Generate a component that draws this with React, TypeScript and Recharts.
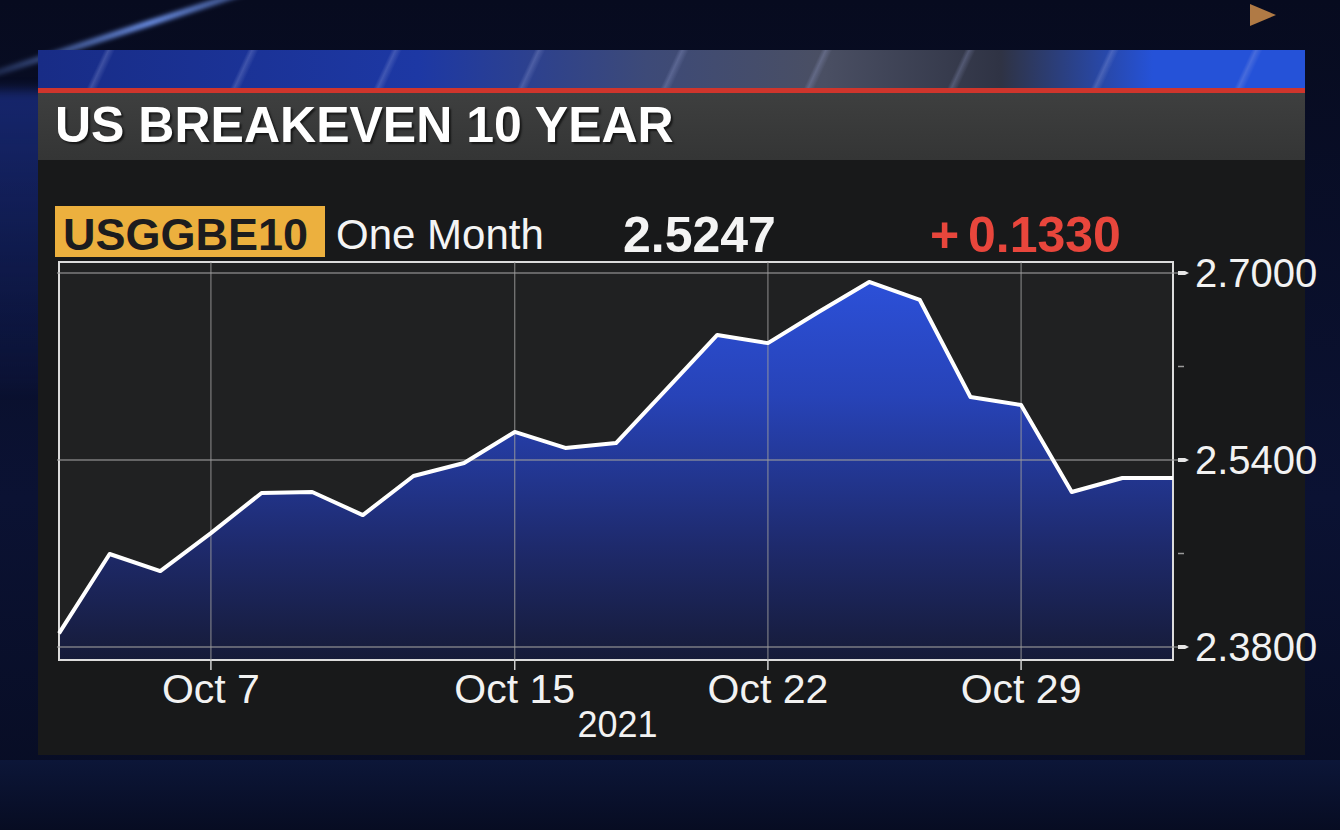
import React from 'react';
import { ComposedChart, Area, Line, XAxis, YAxis, ReferenceLine, ReferenceArea } from 'recharts';

const dates = ['Oct 4','Oct 5','Oct 6','Oct 7','Oct 8','Oct 11','Oct 12','Oct 13','Oct 14','Oct 15','Oct 18','Oct 19','Oct 20','Oct 21','Oct 22','Oct 25','Oct 26','Oct 27','Oct 28','Oct 29','Nov 1','Nov 2','Nov 3'];
const values = [2.3917, 2.4596, 2.445, 2.4775, 2.5118, 2.5126, 2.4929, 2.5263, 2.5374, 2.564, 2.5503, 2.5545, 2.6007, 2.647, 2.64, 2.6666, 2.6923, 2.6769, 2.5939, 2.5871, 2.5126, 2.5246, 2.5247];
const xTicks = ['Oct 7', 'Oct 15', 'Oct 22', 'Oct 29'];
const yTicks = [2.38, 2.46, 2.54, 2.62, 2.7];
const yMajor = [2.38, 2.54, 2.7];
const yDomain = [2.3689, 2.7094];
const ticker = 'USGGBE10';
const period = 'One Month';
const lastValue = '2.5247';
const change = '0.1330';
const title = 'US BREAKEVEN 10 YEAR';
const yearLabel = '2021';

const data = dates.map((d, i) => ({ date: d, value: values[i] }));

const FONT = '"Liberation Sans", Arial, Helvetica, sans-serif';

const YTick = (props: any) => {
  const { x, y, payload } = props;
  const major = yMajor.some((v) => Math.abs(v - payload.value) < 1e-6);
  return (
    <g>
      {major ? (
        <polygon points={`${x - 17},${y - 2} ${x - 10},${y - 2} ${x - 6},${y} ${x - 10},${y + 2} ${x - 17},${y + 2}`} fill="#e6e6e6" />
      ) : (
        <line x1={x - 17} x2={x - 11} y1={y} y2={y} stroke="#9a9a9a" strokeWidth={1.5} />
      )}
      {major && (
        <text x={x} y={y} dy="0.36em" fill="#f2f2f2" fontSize={40} fontFamily={FONT} textAnchor="start">
          {payload.value.toFixed(4)}
        </text>
      )}
    </g>
  );
};

const XTick = (props: any) => {
  const { x, y, payload } = props;
  return (
    <text x={x} y={y + 33} fill="#f2f2f2" fontSize={41} fontFamily={FONT} textAnchor="middle">
      {payload.value}
    </text>
  );
};

export default function App() {
  return (
    <div style={{ position: 'absolute', left: 0, top: 0, width: 1340, height: 830, overflow: 'hidden', background: 'linear-gradient(180deg, #070b1f 0%, #0b1233 60%, #070c22 100%)', fontFamily: FONT }}>
      {/* background streaks */}
      <div style={{ position: 'absolute', left: -60, top: 20, width: 420, height: 6, background: 'linear-gradient(90deg, rgba(60,100,255,0), rgba(120,160,255,0.9), rgba(60,100,255,0))', transform: 'rotate(-18deg)', filter: 'blur(2px)' }} />
      <div style={{ position: 'absolute', left: -40, top: 90, width: 140, height: 300, background: 'linear-gradient(180deg, rgba(40,70,200,0.45), rgba(20,40,140,0.05))', filter: 'blur(6px)' }} />
      <div style={{ position: 'absolute', left: 0, top: 760, width: 1340, height: 70, background: 'linear-gradient(180deg, #0c1638, #070c22)' }} />
      <div style={{ position: 'absolute', left: 1250, top: 4, width: 0, height: 0, borderTop: '11px solid transparent', borderBottom: '11px solid transparent', borderLeft: '26px solid #b07a45' }} />

      {/* panel */}
      <div style={{ position: 'absolute', left: 38, top: 50, width: 1267, height: 705, background: '#18191a' }} />
      <div style={{ position: 'absolute', left: 38, top: 50, width: 1267, height: 38, background: 'linear-gradient(90deg, #182c86 0%, #1d38a4 30%, #3d4a78 48%, #4a4f63 62%, #2f3344 76%, #2552d8 88%, #2552d8 100%)' }} />
      <div style={{ position: 'absolute', left: 38, top: 50, width: 1267, height: 38, background: 'repeating-linear-gradient(115deg, rgba(255,255,255,0) 0px, rgba(255,255,255,0) 60px, rgba(170,180,230,0.25) 64px, rgba(255,255,255,0) 70px, rgba(255,255,255,0) 130px)' }} />
      <div style={{ position: 'absolute', left: 38, top: 88, width: 1267, height: 5, background: '#cf352c' }} />
      <div style={{ position: 'absolute', left: 38, top: 93, width: 1267, height: 67, background: 'linear-gradient(180deg, #3e3f3f, #343535)' }} />
      <div style={{ position: 'absolute', left: 55, top: 100, fontSize: 50, lineHeight: 1, fontWeight: 700, color: '#ffffff', whiteSpace: 'nowrap', textShadow: '2px 2px 2px rgba(0,0,0,0.6)' }}>{title}</div>

      <div style={{ position: 'absolute', left: 55, top: 206, width: 270, height: 51, background: '#ecb03e' }} />
      <div style={{ position: 'absolute', left: 63, top: 212, fontSize: 45, lineHeight: 1, fontWeight: 700, color: '#1c1c1e', whiteSpace: 'nowrap' }}>{ticker}</div>
      <div style={{ position: 'absolute', left: 336, top: 214, fontSize: 42, lineHeight: 1, color: '#f4f4f4', whiteSpace: 'nowrap' }}>{period}</div>
      <div style={{ position: 'absolute', left: 623, top: 210, fontSize: 50, lineHeight: 1, fontWeight: 700, color: '#f4f4f4', whiteSpace: 'nowrap' }}>{lastValue}</div>
      <div style={{ position: 'absolute', left: 930, top: 210, fontSize: 50, lineHeight: 1, fontWeight: 700, color: '#e8463c', whiteSpace: 'nowrap' }}>+</div>
      <div style={{ position: 'absolute', left: 968, top: 210, fontSize: 50, lineHeight: 1, fontWeight: 700, color: '#e8463c', whiteSpace: 'nowrap' }}>{change}</div>

      <div style={{ position: 'absolute', left: 0, top: 0 }}>
        <ComposedChart width={1340} height={830} data={data} margin={{ top: 262, right: 12, bottom: 110, left: 57 }}>
          <defs>
            <linearGradient id="areaFill" x1="0" y1="0" x2="0" y2="1">
              <stop offset="0%" stopColor="#2c50d8" />
              <stop offset="30%" stopColor="#2743b8" />
              <stop offset="70%" stopColor="#1e2a6c" />
              <stop offset="100%" stopColor="#161b38" />
            </linearGradient>
          </defs>
          <XAxis
            dataKey="date"
            ticks={xTicks}
            interval={0}
            padding={{ left: 2, right: 5 }}
            axisLine={false}
            tickLine={{ stroke: '#d0d0d0', strokeWidth: 1.5 }}
            tickSize={10}
            tickMargin={0}
            tick={<XTick />}
            height={60}
            label={{ value: yearLabel, position: 'bottom', offset: -9, fill: '#f2f2f2', fontSize: 36, fontFamily: FONT }}
          />
          <YAxis
            orientation="right"
            domain={yDomain}
            ticks={yTicks}
            allowDataOverflow
            axisLine={false}
            tickLine={false}
            tickSize={8}
            tickMargin={9}
            tick={<YTick />}
            width={150}
            type="number"
          />
          <ReferenceArea y1={yDomain[0]} y2={yDomain[1]} fill="#202122" fillOpacity={1} stroke="none" ifOverflow="visible" />
          <Area type="linear" dataKey="value" stroke="none" fill="url(#areaFill)" fillOpacity={1} isAnimationActive={false} baseValue={yDomain[0]} />
          {yMajor.map((v) => (
            <ReferenceLine key={v} y={v} stroke="#9c9c9c" strokeOpacity={0.75} strokeWidth={1.5} ifOverflow="visible" />
          ))}
          {xTicks.map((d) => (
            <ReferenceLine key={d} x={d} stroke="#9c9c9c" strokeOpacity={0.75} strokeWidth={1.2} ifOverflow="visible" />
          ))}
          <Line type="linear" dataKey="value" stroke="#ffffff" strokeWidth={4} dot={false} isAnimationActive={false} strokeLinejoin="round" />
          <ReferenceArea y1={yDomain[0]} y2={yDomain[1]} fill="none" stroke="#dcdcdc" strokeWidth={2} ifOverflow="visible" />
        </ComposedChart>
      </div>
    </div>
  );
}
